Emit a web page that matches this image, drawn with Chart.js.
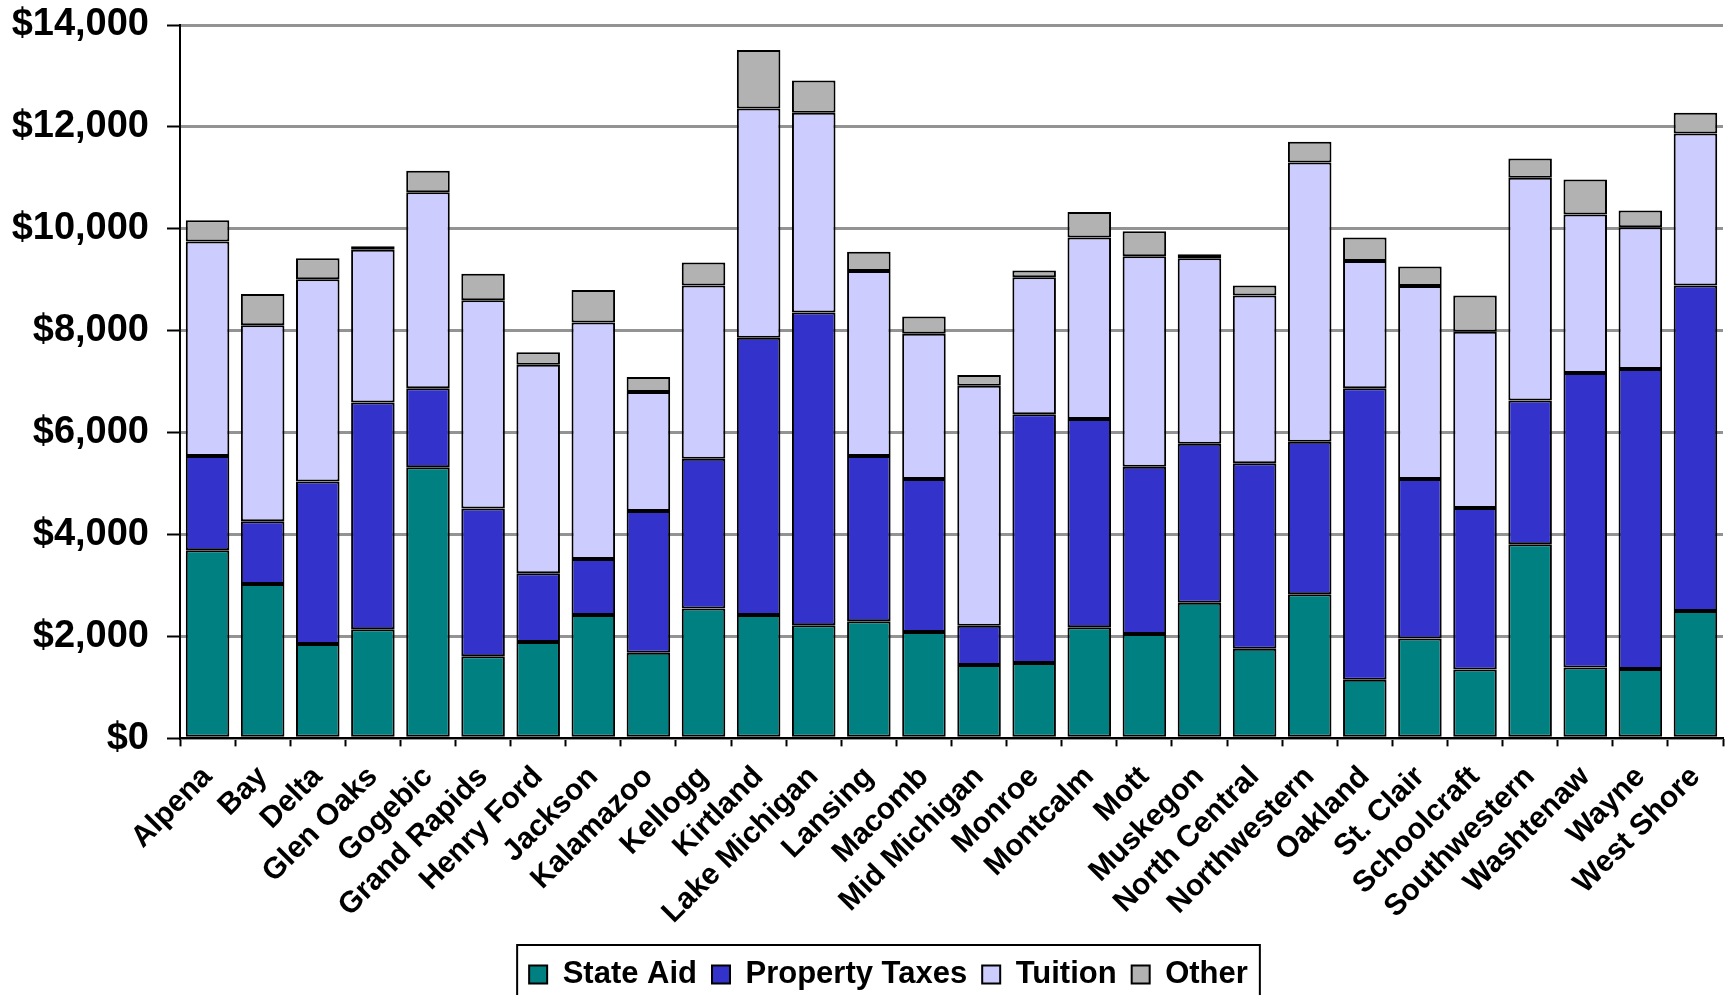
<!DOCTYPE html>
<html>
<head>
<meta charset="utf-8">
<script src="https://cdn.jsdelivr.net/npm/chart.js@4"></script>
<style>
  html, body { margin: 0; padding: 0; background: #fff; overflow: hidden; }
  #wrap { width: 1726px; height: 1000px; position: relative; }
</style>
</head>
<body>
<div id="wrap"><canvas id="myChart"></canvas></div>
<script>
// revenue per student by community college
const colleges = ["Alpena", "Bay", "Delta", "Glen Oaks", "Gogebic", "Grand Rapids", "Henry Ford",
  "Jackson", "Kalamazoo", "Kellogg", "Kirtland", "Lake Michigan", "Lansing", "Macomb",
  "Mid Michigan", "Monroe", "Montcalm", "Mott", "Muskegon", "North Central", "Northwestern",
  "Oakland", "St. Clair", "Schoolcraft", "Southwestern", "Washtenaw", "Wayne", "West Shore"];

const stateAid = [3690, 3030, 1850, 2140, 5320, 1610, 1890, 2420, 1680, 2550, 2420, 2220, 2300, 2090,
  1440, 1480, 2180, 2050, 2660, 1760, 2830, 1150, 1960, 1350, 3810, 1390, 1360, 2500];
const propertyTaxes = [1850, 1230, 3190, 4450, 1550, 2900, 1350, 1100, 2780, 2940, 5440, 6140, 3240, 3000,
  770, 4880, 4090, 3280, 3120, 3640, 2990, 5720, 3130, 3170, 2820, 5780, 5890, 6390];
const tuition = [4210, 3850, 3970, 3000, 3850, 4090, 4090, 4640, 2340, 3400, 4500, 3920, 3630, 2850,
  4710, 2690, 3560, 4130, 3640, 3290, 5480, 2500, 3790, 3460, 4370, 3110, 2780, 2980];
const other = [420, 610, 410, 70, 420, 520, 250, 640, 290, 450, 1150, 630, 380, 340,
  210, 130, 500, 490, 80, 200, 410, 460, 380, 710, 380, 690, 330, 410];

const yTicks = [0, 2000, 4000, 6000, 8000, 10000, 12000, 14000];

const font = "'Liberation Sans', Arial, sans-serif";

// legend sits a bit right of centre and has a box round it
const legendBorder = {
  id: "legendBorder",
  afterUpdate(chart) {
    const lg = chart.legend;
    const shift = 21;
    lg.left += shift;
    lg.right += shift;
    (lg.legendHitBoxes || []).forEach(h => { h.left += shift; });
  },
  afterDraw(chart) {
    const boxes = chart.legend.legendHitBoxes;
    if (!boxes || !boxes.length) return;
    let l = Infinity, r = -Infinity, t = Infinity, b = -Infinity;
    boxes.forEach(h => {
      l = Math.min(l, h.left); r = Math.max(r, h.left + h.width);
      t = Math.min(t, h.top); b = Math.max(b, h.top + h.height);
    });
    const ctx = chart.ctx;
    ctx.save();
    ctx.strokeStyle = "#000";
    ctx.lineWidth = 2;
    ctx.strokeRect(l - 12, t - 14, r - l + 24, b - t + 30);
    ctx.restore();
  }
};

function ds(label, data, color) {
  return { label: label, data: data, backgroundColor: color, borderColor: "#000", borderWidth: 2,
    borderSkipped: false, barPercentage: 0.79, categoryPercentage: 1 };
}

new Chart("myChart", {
  type: "bar",
  data: {
    labels: colleges,
    datasets: [
      ds("State Aid", stateAid, "#008080"),
      ds("Property Taxes", propertyTaxes, "#3333CC"),
      ds("Tuition", tuition, "#CCCCFF"),
      ds("Other", other, "#B2B2B2")
    ]
  },
  options: {
    responsive: true,
    maintainAspectRatio: false,
    animation: false,
    layout: { padding: { left: 12, right: 3, top: 25, bottom: 0 } },
    plugins: {
      title: { display: false },
      tooltip: { enabled: false },
      legend: {
        position: "bottom",
        labels: {
          color: "#000",
          font: { family: font, size: 31, weight: "bold" },
          boxWidth: 18,
          boxHeight: 18,
          padding: 15
        }
      }
    },
    scales: {
      x: {
        stacked: true,
        afterFit: s => { s.paddingLeft = 0; s.paddingRight = 0; },
        grid: { display: true, drawOnChartArea: false, tickLength: 8, tickColor: "#000", tickWidth: 2, offset: true },
        border: { color: "#000", width: 2 },
        ticks: {
          color: "#000",
          autoSkip: false,
          maxRotation: 45,
          minRotation: 45,
          padding: 13,
          font: { family: font, size: 30, weight: "bold" }
        }
      },
      y: {
        stacked: true,
        min: 0,
        max: 14000,
        afterBuildTicks: axis => { axis.ticks = yTicks.map(v => ({ value: v })); },
        afterFit: s => { s.paddingTop = 0; s.paddingBottom = 0; s.width = 168; },
        grid: { color: "#939393", lineWidth: 3, tickLength: 13, tickColor: "#000", tickWidth: 2 },
        border: { color: "#000", width: 2 },
        ticks: {
          color: "#000",
          padding: 18,
          font: { family: font, size: 38, weight: "bold" },
          callback: v => "$" + v.toLocaleString("en-US")
        }
      }
    }
  },
  plugins: [legendBorder]
});
</script>
</body>
</html>
